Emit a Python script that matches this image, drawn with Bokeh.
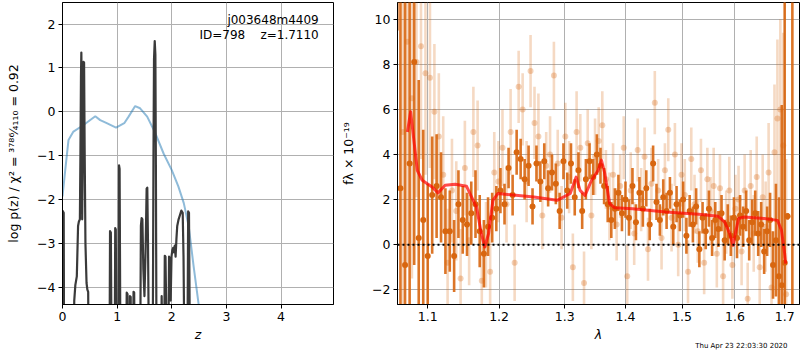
from bokeh.plotting import figure
from bokeh.layouts import row
from bokeh.models import FixedTicker, CustomJSTickFormatter, Label, Span, Range1d, Title
from bokeh.embed import file_html
from bokeh.resources import INLINE

# ---------------- left panel data: log p(z) ----------------
pz_z = [0.000, 0.012, 0.022, 0.030, 0.200, 0.215, 0.235, 0.262, 0.285, 0.300,
        0.318, 0.328, 0.338, 0.345, 0.352, 0.360, 0.370, 0.378, 0.385, 0.395,
        0.405, 0.420, 0.440, 0.455, 0.470, 0.480, 0.860, 0.870, 0.885, 0.900,
        0.955, 0.965, 0.975, 0.990, 1.025, 1.035, 1.045, 1.062, 1.165, 1.175,
        1.190, 1.200, 1.225, 1.235, 1.248, 1.258, 1.290, 1.300, 1.312, 1.322,
        1.420, 1.435, 1.448, 1.462, 1.480, 1.500, 1.520, 1.540, 1.552, 1.565,
        1.585, 1.650, 1.665, 1.675, 1.688, 1.700, 1.710, 1.722, 1.800, 1.815,
        1.835, 1.860, 1.872, 1.885, 1.895, 1.910, 1.935, 1.950, 1.965, 1.980,
        1.995, 2.010, 2.025, 2.040, 2.055, 2.070, 2.085, 2.100, 2.125, 2.150,
        2.175, 2.200, 2.215, 2.235, 2.285, 2.300, 2.315, 2.335, 2.400, 4.960]
pz_logp = [-2.25, -2.28, -2.30, -6.0, -6.0, -4.30, -3.95, -3.75, -2.60, -2.50,
           -2.45, -1.00, 0.80, 1.35, 0.40, -2.45, -1.20, 1.05, 1.14, 1.12,
           -0.80, -3.00, -3.90, -4.05, -4.10, -6.0, -6.0, -2.72, -2.75, -6.0,
           -6.0, -2.65, -2.68, -6.0, -6.0, -1.22, -1.30, -6.0, -6.0, -4.12,
           -4.15, -6.0, -6.0, -4.20, -4.22, -6.0, -6.0, -4.10, -4.12, -6.0,
           -6.0, -2.60, -2.42, -2.45, -3.60, -4.20, -3.20, -1.75, -1.73, -3.00,
           -6.0, -6.0, -1.00, 1.20, 1.61, 1.30, -1.50, -6.0, -6.0, -4.20,
           -6.0, -6.0, -3.28, -3.30, -4.20, -6.0, -6.0, -3.30, -3.35, -4.30,
           -3.30, -3.15, -3.10, -3.20, -3.05, -3.30, -2.90, -2.60, -2.45, -2.35,
           -2.25, -2.30, -3.30, -6.0, -6.0, -2.27, -2.30, -6.0, -6.0, -6.0]

prior_z = [0.00, 0.05, 0.11, 0.20, 0.385, 0.60, 0.69, 0.81, 0.98, 1.13, 1.21,
           1.33, 1.42, 1.55, 1.70, 1.85, 2.00, 2.12, 2.22, 2.31, 2.40, 2.49, 2.55]
prior_logp = [-1.93, -1.33, -0.64, -0.45, -0.30, -0.10, -0.19, -0.26, -0.36, -0.26, -0.11,
              0.13, 0.08, -0.11, -0.49, -0.95, -1.33, -1.70, -2.08, -2.61, -3.52, -4.37, -5.0]

z_ticks = [0, 1, 2, 3, 4]
logp_ticks = [-4, -3, -2, -1, 0, 1, 2]

# ---------------- right panel data: spectrum ----------------
dark_wave = [1.060,
             1.064, 1.070, 1.076, 1.082, 1.088, 1.094, 1.100, 1.106, 1.112, 1.118,
             1.124, 1.130, 1.136, 1.142, 1.148, 1.154, 1.160, 1.166, 1.172, 1.178,
             1.184, 1.190, 1.196, 1.202, 1.208, 1.214, 1.220, 1.226, 1.232, 1.238,
             1.244, 1.250, 1.256, 1.262, 1.268, 1.274, 1.280, 1.286, 1.292, 1.298,
             1.304, 1.310, 1.316, 1.322, 1.328, 1.334, 1.340, 1.346, 1.352, 1.358,
             1.364, 1.370, 1.376, 1.382, 1.388, 1.394, 1.400, 1.406, 1.412, 1.418,
             1.424, 1.430, 1.436, 1.442, 1.448, 1.454, 1.460, 1.466, 1.472, 1.478,
             1.484, 1.490, 1.496, 1.502, 1.508, 1.514, 1.520, 1.526, 1.532, 1.538,
             1.544, 1.550, 1.556, 1.562, 1.568, 1.574, 1.580, 1.586, 1.592, 1.598,
             1.604, 1.610, 1.616, 1.622, 1.628, 1.634, 1.640, 1.646, 1.652, 1.658,
             1.664, 1.670, 1.676, 1.682, 1.688, 1.694, 1.700,
             1.706, 1.716]
dark_flux = [12.0,
             2.5, -0.9, 3.6, 8.1, 0.3, 1.1, -0.5, 2.2, 2.6, 2.1,
             0.6, 0.6, -0.5, 1.8, 1.1, 0.9, 1.4, 1.8, 0.6, -0.4,
             0.8, 1.2, 1.6, 2.4, 1.8, 3.4, 2.2, 4.1, 3.8, 2.9,
             3.5, 1.7, 3.6, 2.8, 3.7, 2.5, 3.2, 2.7, 1.5, 3.7,
             2.4, 3.6, 2.1, 3.3, 1.5, 2.9, 3.7, 3.0, 4.0, 3.5,
             2.6, 1.8, 1.1, 1.6, 2.3, 1.4, 2.0, 1.2, 2.6, 1.0,
             2.3, 1.6, 2.5, 0.9, 3.6, 1.9, 1.1, 2.1, 1.5, 2.3,
             0.8, 1.8, 1.3, 2.0, 0.4, 1.5, 0.9, 1.7, -0.2, 1.2,
             0.6, 1.6, 0.3, 1.1, 0.7, 1.4, 0.2, 0.9, 0.4, 1.2,
             0.3, 1.3, 0.8, 1.5, 0.2, 1.0, 1.4, 0.5, 0.9, -0.3,
             0.6, 1.1, -0.9, 0.2, -1.4, -1.8, -0.8,
             1.26, 13.0]
dark_err = [2.5,
            12, 12, 10, 9, 7, 4, 3.2, 2.6, 2.3, 2.0,
            1.9, 1.8, 1.6, 1.5, 1.5, 1.4, 1.4, 1.5, 1.6, 1.5,
            1.3, 1.1, 1.0, 1.0, 0.9, 0.9, 0.9, 1.0, 0.9, 0.9,
            0.9, 0.8, 0.8, 0.9, 0.8, 0.8, 0.8, 0.9, 0.8, 0.8,
            0.8, 0.9, 0.8, 0.8, 0.8, 0.9, 0.8, 0.8, 0.9, 0.8,
            0.8, 0.8, 0.8, 0.9, 0.8, 0.8, 0.8, 0.8, 0.8, 0.8,
            0.7, 0.8, 0.8, 0.7, 0.8, 0.8, 0.7, 0.8, 0.8, 0.7,
            0.8, 0.8, 0.7, 0.8, 0.8, 0.7, 0.8, 0.8, 0.8, 0.7,
            0.8, 0.8, 0.8, 0.8, 0.8, 0.8, 0.9, 0.9, 0.9, 0.9,
            0.9, 0.9, 0.9, 0.9, 0.9, 1.0, 1.0, 1.0, 1.0, 1.0,
            1.1, 1.2, 1.5, 2.5, 3.5, 8, 12,
            0.15, 16]

light_wave = [1.067, 1.073, 1.079, 1.085, 1.091, 1.097, 1.103, 1.109, 1.115, 1.121,
              1.127, 1.133, 1.139, 1.145, 1.151, 1.157, 1.163, 1.169, 1.175, 1.181,
              1.187, 1.193, 1.199, 1.205, 1.211, 1.217, 1.223, 1.229, 1.235, 1.241,
              1.247, 1.253, 1.259, 1.265, 1.271, 1.277, 1.283, 1.289, 1.295, 1.301,
              1.307, 1.313, 1.319, 1.325, 1.331, 1.337, 1.343, 1.349, 1.355, 1.361,
              1.367, 1.373, 1.379, 1.385, 1.391, 1.397, 1.403, 1.409, 1.415, 1.421,
              1.427, 1.433, 1.439, 1.445, 1.451, 1.457, 1.463, 1.469, 1.475, 1.481,
              1.487, 1.493, 1.499, 1.505, 1.511, 1.517, 1.523, 1.529, 1.535, 1.541,
              1.547, 1.553, 1.559, 1.565, 1.571, 1.577, 1.583, 1.589, 1.595, 1.601,
              1.607, 1.613, 1.619, 1.625, 1.631, 1.637, 1.643, 1.649, 1.655, 1.661,
              1.667, 1.673, 1.679, 1.685, 1.691, 1.697, 1.703]
light_flux = [5.0, 9.0, 6.5, 8.1, 8.8, 7.6, 7.4, 5.9, 4.8, 3.1,
              -0.8, 2.4, 1.5, -1.5, 3.4, 0.2, 5.0, 4.4, -1.6, 0.0,
              -1.2, 3.2, 2.8, 4.3, 1.8, 5.0, -0.8, 7.0, 6.0, 2.8,
              7.7, 5.4, 4.8, 1.3, 3.5, 4.0, 7.5, 3.6, 1.2, 4.8,
              3.0, -1.0, 5.0, 4.3, -1.7, 4.5, 1.3, 3.9, 4.6, 5.3,
              2.9, 1.7, 3.1, 0.9, 2.6, 4.3, -1.4, 2.4, 0.5, 4.2,
              2.0, 3.9, -0.2, 2.7, 6.3, 2.4, 0.3, 3.3, 5.1, 1.2,
              4.0, 0.0, 3.1, 2.2, -1.2, 3.8, 1.8, 0.6, 3.3, -0.8,
              2.9, 1.5, 2.6, -0.4, 2.5, -1.4, 1.0, 2.4, -0.9, 1.6,
              2.0, -0.3, 2.4, -2.4, 2.6, 0.5, 3.0, -1.0, 2.1, 0.8,
              3.2, -1.9, 4.1, 5.6, 6.0, 4.4, -2.2]
light_err = [12, 10, 8, 6, 5, 4.5, 4, 3, 2.8, 2.6,
             2.4, 2.3, 2.2, 2.2, 2.1, 2.0, 2.0, 2.0, 2.0, 1.9,
             1.9, 1.8, 1.8, 1.7, 1.7, 1.9, 1.7, 1.6, 1.6, 1.8,
             1.6, 1.6, 1.9, 1.5, 1.5, 1.7, 1.5, 1.5, 1.4, 1.5,
             1.6, 1.5, 1.8, 1.5, 1.4, 1.5, 1.5, 1.7, 1.5, 1.5,
             1.3, 1.5, 1.4, 1.6, 1.4, 1.4, 1.4, 1.7, 1.4, 1.4,
             1.4, 1.3, 1.4, 1.6, 1.4, 1.4, 1.4, 1.2, 1.4, 1.5,
             1.4, 1.4, 1.4, 1.6, 1.4, 1.4, 1.3, 1.4, 1.4, 1.4,
             1.4, 1.5, 1.7, 1.5, 1.5, 1.5, 1.4, 1.5, 1.5, 1.5,
             1.5, 1.5, 1.6, 1.6, 1.6, 1.7, 1.8, 1.8, 1.9, 2.0,
             2.2, 2.5, 3.0, 3.5, 4, 5, 6]

model_wave = [1.0731, 1.0773, 1.0861, 1.0926, 1.1059, 1.1139, 1.1237, 1.1373, 1.1534, 1.1604,
              1.1674, 1.1744, 1.1791, 1.1848, 1.1910, 1.1981, 1.2522, 1.2879, 1.3088, 1.3183,
              1.3246, 1.3326, 1.3433, 1.3542, 1.3596, 1.3651, 1.3733, 1.3817, 1.4124, 1.4702,
              1.5305, 1.5677, 1.5802, 1.5898, 1.5963, 1.6007, 1.6071, 1.6187, 1.6582, 1.6852,
              1.6933, 1.7000, 1.7021]
model_flux = [5.0, 5.9, 3.3, 2.86, 2.56, 2.3, 2.64, 2.68, 2.59, 2.12,
              1.67, 0.49, -0.1, 0.5, 1.97, 2.27, 2.12, 1.97, 2.27, 3.0,
              2.41, 2.19, 2.86, 3.3, 3.75, 3.16, 1.82, 1.64, 1.6, 1.45,
              1.35, 1.26, 1.0, 0.49, -0.03, 0.49, 1.16, 1.23, 1.16, 1.08,
              0.64, -0.4, -0.84]

wave_ticks = [1.1, 1.2, 1.3, 1.4, 1.5, 1.6, 1.7]
flux_ticks = [-2, 0, 2, 4, 6, 8, 10]

FONT = "DejaVu Sans"
ORANGE = "#d8660f"
GRID = "#b0b0b0"

minus_fmt = CustomJSTickFormatter(code="return (tick < 0 ? '\u2212' : '') + Math.abs(tick).toString();")


def style(p):
    p.outline_line_color = "black"
    p.outline_line_width = 1
    p.outline_line_alpha = 1
    for ax in (p.xaxis, p.yaxis):
        ax.axis_line_color = "black"
        ax.major_tick_line_color = "black"
        ax.major_tick_out = 4
        ax.major_tick_in = 0
        ax.minor_tick_line_color = None
        ax.major_label_text_font = FONT
        ax.major_label_text_font_size = "12.5px"
        ax.major_label_text_color = "black"
        ax.major_label_standoff = 3
        ax.axis_label_text_font = FONT
        ax.axis_label_text_font_size = "12.5px"
        ax.axis_label_text_color = "black"
    p.xaxis.axis_label_text_font_style = "italic"
    p.yaxis.axis_label_text_font_style = "normal"
    p.xaxis.axis_label_standoff = 3
    for g in (p.xgrid, p.ygrid):
        g.grid_line_color = GRID
        g.grid_line_width = 1


# ---------------- left figure ----------------
p1 = figure(width=338, height=350, x_range=Range1d(0, 4.96), y_range=Range1d(-4.39, 2.49),
            output_backend="svg", toolbar_location=None,
            min_border_left=62, min_border_right=5, min_border_top=2, min_border_bottom=46)
style(p1)
p1.xaxis.ticker = FixedTicker(ticks=z_ticks, minor_ticks=[])
p1.xgrid.ticker = FixedTicker(ticks=z_ticks, minor_ticks=[])
p1.yaxis.ticker = FixedTicker(ticks=logp_ticks, minor_ticks=[])
p1.ygrid.ticker = FixedTicker(ticks=logp_ticks, minor_ticks=[])
p1.yaxis.formatter = minus_fmt
p1.xaxis.axis_label = "z"
p1.yaxis.axis_label = "log p(z) / \u03c7\u00b2 = \u00b3\u2077\u2078\u2076\u2044\u2084\u2081\u2081\u2080 = 0.92"
p1.yaxis.axis_label_standoff = 13

p1.line(prior_z, prior_logp, line_color="#1f77b4", line_alpha=0.5, line_width=2)
p1.line(pz_z, pz_logp, line_color="#3a3a3a", line_width=2.2, line_join="round")

p1.add_layout(Label(x=4.69, y=2.24, text="j003648m4409", text_align="right", text_baseline="top",
                    text_font=FONT, text_font_size="12px", text_color="black"))
p1.add_layout(Label(x=4.69, y=1.91, text="ID=798\u00a0\u00a0\u00a0\u00a0z=1.7110",
                    text_align="right", text_baseline="top",
                    text_font=FONT, text_font_size="12px", text_color="black"))

# ---------------- right figure ----------------
p2 = figure(width=462, height=350, x_axis_type="log",
            x_range=Range1d(1.0602, 1.731), y_range=Range1d(-2.65, 10.74),
            output_backend="svg", toolbar_location=None,
            min_border_left=53, min_border_right=1, min_border_top=2, min_border_bottom=46)
style(p2)
p2.xaxis.ticker = FixedTicker(ticks=wave_ticks, minor_ticks=[])
p2.xgrid.ticker = FixedTicker(ticks=wave_ticks, minor_ticks=[])
p2.xaxis.formatter = CustomJSTickFormatter(code="return tick.toFixed(1);")
p2.yaxis.ticker = FixedTicker(ticks=flux_ticks, minor_ticks=[])
p2.ygrid.ticker = FixedTicker(ticks=flux_ticks, minor_ticks=[])
p2.yaxis.formatter = minus_fmt
p2.xaxis.axis_label = "\u03bb"
p2.yaxis.axis_label = "f\u03bb \u00d7 10\u207b\u00b9\u2079"
p2.yaxis.axis_label_standoff = 13

light_lo = [f - e for f, e in zip(light_flux, light_err)]
light_hi = [f + e for f, e in zip(light_flux, light_err)]
dark_lo = [f - e for f, e in zip(dark_flux, dark_err)]
dark_hi = [f + e for f, e in zip(dark_flux, dark_err)]

p2.segment(x0=light_wave, y0=light_lo, x1=light_wave, y1=light_hi,
           line_color=ORANGE, line_alpha=0.25, line_width=2.6)
p2.scatter(light_wave, light_flux, size=6, fill_color=ORANGE, fill_alpha=0.3, line_color=None)
p2.segment(x0=dark_wave, y0=dark_lo, x1=dark_wave, y1=dark_hi,
           line_color=ORANGE, line_alpha=0.9, line_width=2.6)
p2.scatter(dark_wave, dark_flux, size=6, fill_color=ORANGE, fill_alpha=1.0, line_color=None)
p2.line(model_wave, model_flux, line_color="red", line_alpha=0.7, line_width=3, line_join="round")
p2.add_layout(Span(location=0, dimension="width", line_color="black", line_width=2, line_dash="2 3"))

stamp = Title(text="Thu Apr 23 22:03:30 2020", align="right", offset=12, standoff=-9,
              text_font=FONT, text_font_size="7px", text_font_style="normal", text_color="black")
p2.add_layout(stamp, "below")

layout = row(p1, p2)
open("out.html", "w").write(file_html(layout, INLINE))
